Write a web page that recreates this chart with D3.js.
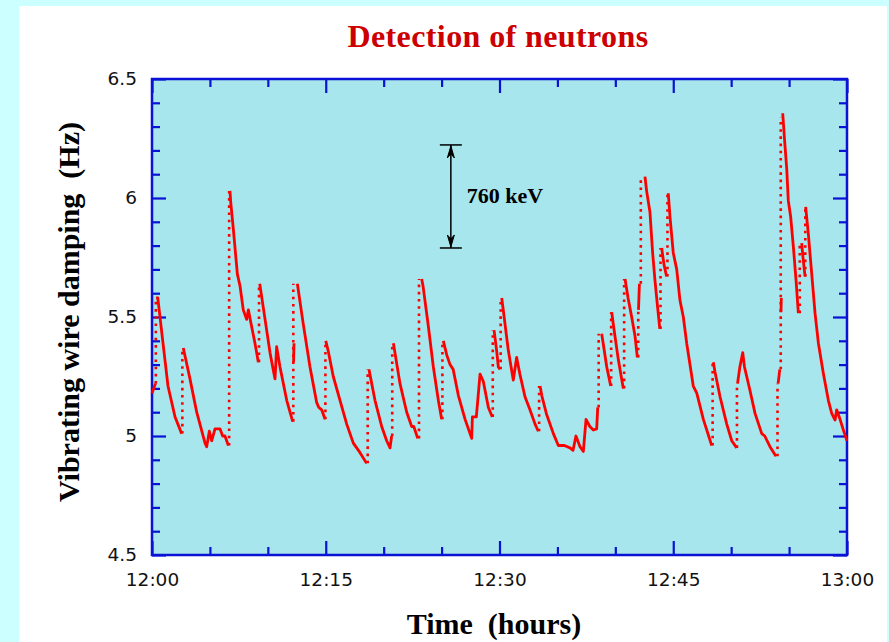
<!DOCTYPE html>
<html>
<head>
<meta charset="utf-8">
<script src="https://cdn.jsdelivr.net/npm/d3@7"></script>
<style>
  html, body { margin: 0; padding: 0; background: #ccffff; }
  svg { display: block; }
  text { white-space: pre; }
</style>
</head>
<body>
<div id="chart"></div>
<script>
// minutes after 12:00 and damping (Hz)
// solid parts: slow decay after each neutron hit
const decays = [
  [[0, 5.18], [0.3, 5.22]],
  [[0.35, 5.58], [0.5, 5.58], [0.95, 5.39], [1.38, 5.21], [1.99, 5.08], [2.56, 5.01]],
  [[2.7, 5.37], [3.28, 5.24], [3.86, 5.10], [4.58, 4.97], [4.72, 4.955], [4.95, 5.02], [5.15, 4.98],
   [5.44, 5.03], [5.87, 5.03], [6.10, 5.0], [6.30, 5.0], [6.59, 4.96]],
  [[6.73, 6.03], [6.8, 5.98], [7.02, 5.87], [7.37, 5.68], [7.6, 5.63], [7.88, 5.53], [8.17, 5.49],
   [8.32, 5.53], [8.6, 5.46], [8.89, 5.39], [9.18, 5.31]],
  [[9.3, 5.64], [9.76, 5.49], [10.19, 5.35], [10.42, 5.29], [10.62, 5.24], [10.76, 5.375], [11.05, 5.29],
   [11.63, 5.15], [12.15, 5.06]],
  [[12.22, 5.31], [12.26, 5.39]],
  [[12.55, 5.64], [13.06, 5.47], [13.64, 5.29], [14.22, 5.14], [14.4, 5.12], [14.65, 5.11], [14.94, 5.07]],
  [[15.0, 5.40], [15.2, 5.36], [15.65, 5.25], [16.23, 5.15], [16.81, 5.05], [17.38, 4.97], [17.96, 4.93], [18.53, 4.885]],
  [[18.73, 5.28], [19.25, 5.15], [19.83, 5.04], [20.26, 4.98], [20.55, 4.95], [20.69, 5.0]],
  [[20.84, 5.39], [21.41, 5.22], [21.99, 5.10], [22.42, 5.04], [22.6, 5.04], [22.94, 4.99]],
  [[23.28, 5.66], [23.4, 5.63], [23.86, 5.46], [24.29, 5.29], [24.72, 5.15], [25.01, 5.07]],
  [[25.15, 5.40], [25.45, 5.34], [25.73, 5.30], [26.0, 5.28], [26.45, 5.17], [27.03, 5.07], [27.6, 4.99],
   [27.66, 5.08], [28.0, 5.08], [28.32, 5.26], [28.6, 5.23], [29.04, 5.12], [29.38, 5.08]],
  [[29.53, 5.445], [29.75, 5.36], [29.9, 5.29], [30.05, 5.28]],
  [[30.19, 5.58], [30.35, 5.52], [30.76, 5.36], [31.19, 5.235], [31.48, 5.33], [31.76, 5.26], [32.2, 5.165],
   [32.63, 5.11], [33.07, 5.05], [33.35, 5.02]],
  [[33.5, 5.21], [33.65, 5.17], [34.07, 5.09], [34.65, 5.01], [35.08, 4.96], [35.6, 4.96], [36.09, 4.95],
   [36.35, 4.94], [36.6, 5.0], [36.95, 4.955], [37.24, 4.935], [37.47, 5.07], [37.8, 5.04], [38.1, 5.025],
   [38.39, 5.03], [38.48, 5.12]],
  [[38.82, 5.43], [38.95, 5.39], [39.26, 5.29], [39.6, 5.21]],
  [[39.69, 5.52], [39.85, 5.46], [40.26, 5.32], [40.69, 5.20]],
  [[40.84, 5.66], [41.1, 5.58], [41.41, 5.50], [41.7, 5.42], [41.9, 5.33]],
  [[42.0, 5.53], [42.08, 5.64]],
  [[42.56, 6.09], [42.7, 6.03], [42.99, 5.94], [43.22, 5.77], [43.42, 5.655], [43.65, 5.54], [43.84, 5.45]],
  [[44.0, 5.79], [44.2, 5.72], [44.43, 5.67]],
  [[44.57, 6.02], [44.72, 5.92], [45.0, 5.77], [45.3, 5.70], [45.58, 5.57], [45.87, 5.50], [46.16, 5.39],
   [46.73, 5.21], [47.03, 5.18], [47.6, 5.07], [48.32, 4.96]],
  [[48.46, 5.31], [48.6, 5.27], [49.04, 5.165], [49.62, 5.05], [50.05, 4.98], [50.48, 4.95]],
  [[50.55, 5.22], [50.75, 5.29], [51.0, 5.35], [51.15, 5.29], [51.63, 5.19], [52.06, 5.095], [52.64, 5.01],
   [52.9, 5.0], [53.35, 4.955], [53.87, 4.915]],
  [[54.05, 5.22], [54.2, 5.28]],
  [[54.3, 5.52], [54.33, 5.58]],
  [[54.45, 6.356], [54.6, 6.25], [54.8, 6.12], [54.93, 5.99], [55.14, 5.92], [55.37, 5.795], [55.6, 5.655], [55.8, 5.516]],
  [[56.09, 5.81], [56.2, 5.75], [56.38, 5.67]],
  [[56.43, 5.963], [56.66, 5.85], [56.95, 5.684], [57.24, 5.516], [57.53, 5.39], [57.96, 5.263], [58.39, 5.15],
   [58.68, 5.095], [58.97, 5.067], [59.11, 5.11], [59.4, 5.07], [59.69, 5.025], [60, 4.98]]
]

// dotted parts: fast rise at each hit [minute, from Hz, to Hz]
const jumps = [
  [0.33, 5.22, 5.58], [2.62, 5.01, 5.37], [6.66, 4.96, 6.03], [9.24, 5.31, 5.64],
  [12.2, 5.06, 5.64], [14.97, 5.07, 5.40], [18.62, 4.885, 5.28], [20.74, 5.0, 5.39],
  [23.05, 4.99, 5.66], [25.07, 5.07, 5.40], [29.42, 5.08, 5.445], [30.1, 5.28, 5.58],
  [33.42, 5.02, 5.21], [38.56, 5.12, 5.43], [39.64, 5.21, 5.52], [40.76, 5.20, 5.66],
  [41.98, 5.33, 5.53], [42.2, 5.64, 6.09], [43.9, 5.45, 5.79], [44.5, 5.67, 6.02],
  [48.4, 4.96, 5.31], [50.5, 4.95, 5.22], [54.0, 4.915, 5.22], [54.28, 5.28, 6.34],
  [55.92, 5.516, 5.81], [56.4, 5.67, 5.963]
]

const x_domain = [0, 60]
const y_domain = [4.5, 6.5]
const x_major = [0, 15, 30, 45, 60]
const x_minor = [5, 10, 20, 25, 35, 40, 50, 55]
const x_labels = ['12:00', '12:15', '12:30', '12:45', '13:00']
const y_major = [4.5, 5, 5.5, 6, 6.5]
const y_minor = [4.6, 4.7, 4.8, 4.9, 5.1, 5.2, 5.3, 5.4, 5.6, 5.7, 5.8, 5.9, 6.1, 6.2, 6.3, 6.4]

// energy scale bar
const bar_minute = 25.8
const bar_range = [5.79, 6.223]
const bar_label = '760 keV'

const title = 'Detection of neutrons'
const x_title = 'Time  (hours)'
const y_title = 'Vibrating wire damping  (Hz)'

const width = 889
const height = 642
const plot_left = 152, plot_top = 79, plot_right = 847, plot_bottom = 555
const axis_blue = '#0a12d6'
const trace_red = '#ff0000'

const svg = d3.select('#chart').append('svg')
  .attr('width', width)
  .attr('height', height)

// white sheet
svg.append('rect')
  .attr('x', 19).attr('y', 6)
  .attr('width', 868).attr('height', height)
  .attr('fill', '#ffffff')

svg.append('rect')
  .attr('x', plot_left).attr('y', plot_top)
  .attr('width', plot_right - plot_left).attr('height', plot_bottom - plot_top)
  .attr('fill', '#a6e6ec')

const x = d3.scaleLinear().domain(x_domain).range([plot_left, plot_right])
const y = d3.scaleLinear().domain(y_domain).range([plot_bottom, plot_top])

// ticks on all four sides, pointing in
function draw_axis(axis, tx, ty, cls) {
  const g = svg.append('g')
    .attr('class', cls)
    .attr('transform', `translate(${tx},${ty})`)
    .call(axis)
  g.select('.domain').remove()
  g.selectAll('.tick line').attr('stroke', axis_blue).attr('stroke-width', 2.2)
  return g
}

draw_axis(d3.axisBottom(x).tickValues(x_major).tickSize(-14).tickPadding(18)
  .tickFormat((d, i) => x_labels[i]), 0, plot_bottom, 'x_bottom')
draw_axis(d3.axisBottom(x).tickValues(x_minor).tickSize(-8).tickFormat(''), 0, plot_bottom, 'x_bottom_minor')
draw_axis(d3.axisTop(x).tickValues(x_major).tickSize(-14).tickFormat(''), 0, plot_top, 'x_top')
draw_axis(d3.axisTop(x).tickValues(x_minor).tickSize(-8).tickFormat(''), 0, plot_top, 'x_top_minor')

draw_axis(d3.axisLeft(y).tickValues(y_major).tickSize(-14).tickPadding(15)
  .tickFormat(d => String(d)), plot_left, 0, 'y_left')
draw_axis(d3.axisLeft(y).tickValues(y_minor).tickSize(-8).tickFormat(''), plot_left, 0, 'y_left_minor')
draw_axis(d3.axisRight(y).tickValues(y_major).tickSize(-14).tickFormat(''), plot_right, 0, 'y_right')
draw_axis(d3.axisRight(y).tickValues(y_minor).tickSize(-8).tickFormat(''), plot_right, 0, 'y_right_minor')

svg.selectAll('.x_bottom text, .y_left text')
  .attr('font-family', 'DejaVu Sans')
  .attr('font-size', 18.5)
  .attr('fill', '#111')

svg.append('rect')
  .attr('x', plot_left).attr('y', plot_top)
  .attr('width', plot_right - plot_left).attr('height', plot_bottom - plot_top)
  .attr('fill', 'none')
  .attr('stroke', axis_blue)
  .attr('stroke-width', 2.5)

// data
const line = d3.line()
  .x(d => x(d[0]))
  .y(d => y(d[1]))

svg.append('g')
  .selectAll('path')
  .data(jumps)
  .enter()
  .append('path')
    .attr('d', d => line([[d[0], d[1]], [d[0], d[2]]]))
    .attr('stroke', trace_red)
    .attr('stroke-width', 2.6)
    .attr('stroke-dasharray', '2.6,4.6')
    .attr('fill', 'none')

svg.append('g')
  .selectAll('path')
  .data(decays)
  .enter()
  .append('path')
    .attr('d', d => line(d))
    .attr('stroke', trace_red)
    .attr('stroke-width', 2.8)
    .attr('stroke-linejoin', 'round')
    .attr('fill', 'none')

// 760 keV bar
const bx = x(bar_minute)
const y_hi = y(bar_range[1]), y_lo = y(bar_range[0])
const bar = svg.append('g').attr('stroke', '#000').attr('fill', '#000')
bar.append('line').attr('x1', bx).attr('x2', bx).attr('y1', y_hi).attr('y2', y_lo).attr('stroke-width', 1.5)
bar.append('line').attr('x1', bx - 11).attr('x2', bx + 11).attr('y1', y_hi).attr('y2', y_hi).attr('stroke-width', 1.5)
bar.append('line').attr('x1', bx - 11).attr('x2', bx + 11).attr('y1', y_lo).attr('y2', y_lo).attr('stroke-width', 1.5)
bar.append('path')
  .attr('d', `M${bx},${y_hi + 1} L${bx - 3.5},${y_hi + 13} L${bx},${y_hi + 9} L${bx + 3.5},${y_hi + 13} Z`)
  .attr('stroke-width', 1)
bar.append('path')
  .attr('d', `M${bx},${y_lo - 1} L${bx - 3.5},${y_lo - 13} L${bx},${y_lo - 9} L${bx + 3.5},${y_lo - 13} Z`)
  .attr('stroke-width', 1)

svg.append('text')
  .attr('x', bx + 16)
  .attr('y', (y_hi + y_lo) / 2 + 7)
  .attr('font-family', 'Liberation Serif')
  .attr('font-weight', 'bold')
  .attr('font-size', 22)
  .attr('fill', '#000')
  .text(bar_label)

// titles
svg.append('text')
  .attr('x', 498).attr('y', 47)
  .attr('text-anchor', 'middle')
  .attr('font-family', 'Liberation Serif')
  .attr('font-weight', 'bold')
  .attr('font-size', 32)
  .attr('letter-spacing', 0.4)
  .attr('fill', '#cc0000')
  .text(title)

svg.append('text')
  .attr('x', 494).attr('y', 634)
  .attr('text-anchor', 'middle')
  .attr('font-family', 'Liberation Serif')
  .attr('font-weight', 'bold')
  .attr('font-size', 30)
  .attr('fill', '#000')
  .text(x_title)

svg.append('text')
  .attr('transform', 'translate(79,312) rotate(-90)')
  .attr('text-anchor', 'middle')
  .attr('font-family', 'Liberation Serif')
  .attr('font-weight', 'bold')
  .attr('font-size', 30)
  .attr('fill', '#000')
  .text(y_title)
</script>
</body>
</html>
